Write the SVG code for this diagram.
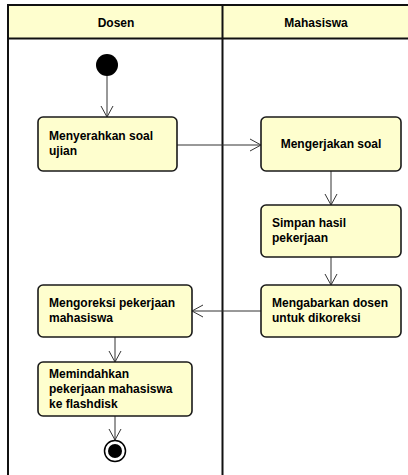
<svg xmlns="http://www.w3.org/2000/svg" width="408" height="475" viewBox="0 0 408 475">
<style>
.lane{fill:none;stroke:#111;stroke-width:2}
.hdr{fill:#FEFECE}
.htxt{font-family:"Liberation Sans",Arial,sans-serif;font-size:12px;font-weight:bold;fill:#000;text-anchor:middle}
.box{fill:#FEFECE;stroke:#1a1a1a;stroke-width:1.6}
.txt{font-family:"Liberation Sans",Arial,sans-serif;font-size:12px;font-weight:bold;fill:#000}
.ctr{text-anchor:middle}
.edge{fill:none;stroke:#333;stroke-width:1;marker-end:url(#arr)}
</style>
<defs>
<marker id="arr" markerUnits="userSpaceOnUse" markerWidth="14" markerHeight="16" refX="12" refY="7" orient="auto">
<path d="M1,1 L12,7 L1,13" fill="none" stroke="#333" stroke-width="1"/>
</marker>
</defs>
<rect x="0" y="0" width="408" height="475" fill="#fff"/>
<g id="swimlanes">
<rect class="hdr" x="8" y="5" width="400" height="33.5"/>
<line class="lane" x1="8" y1="5" x2="408" y2="5"/>
<line class="lane" x1="8" y1="38.5" x2="408" y2="38.5"/>
<line class="lane" x1="8" y1="4" x2="8" y2="475"/>
<line class="lane" x1="222.5" y1="5" x2="222.5" y2="475"/>
<text class="htxt" x="116" y="27">Dosen</text>
<text class="htxt" x="316" y="27">Mahasiswa</text>
</g>
<g id="connectors">
<line class="edge" x1="107" y1="76" x2="107" y2="117"/>
<line class="edge" x1="177" y1="145" x2="261" y2="145"/>
<line class="edge" x1="331" y1="171" x2="331" y2="205"/>
<line class="edge" x1="331" y1="257" x2="331" y2="285"/>
<line class="edge" x1="261" y1="311" x2="192" y2="311"/>
<line class="edge" x1="115" y1="337" x2="115" y2="362"/>
<line class="edge" x1="115" y1="416" x2="115" y2="440"/>
</g>
<g id="start"><circle cx="107" cy="65" r="11" fill="#000"/></g>
<g id="n1">
<rect class="box" x="38" y="117" width="139" height="54" rx="5"/>
<text class="txt" x="49" y="140">Menyerahkan soal</text>
<text class="txt" x="49" y="155">ujian</text>
</g>
<g id="n2">
<rect class="box" x="261" y="117" width="140" height="54" rx="5"/>
<text class="txt ctr" x="331" y="148">Mengerjakan soal</text>
</g>
<g id="n3">
<rect class="box" x="261" y="205" width="140" height="52" rx="5"/>
<text class="txt" x="272" y="227">Simpan hasil</text>
<text class="txt" x="272" y="242">pekerjaan</text>
</g>
<g id="n4">
<rect class="box" x="261" y="285" width="140" height="52" rx="5"/>
<text class="txt" x="272" y="307">Mengabarkan dosen</text>
<text class="txt" x="272" y="322">untuk dikoreksi</text>
</g>
<g id="n5">
<rect class="box" x="38" y="285" width="154" height="52" rx="5"/>
<text class="txt" x="49" y="307">Mengoreksi pekerjaan</text>
<text class="txt" x="49" y="322">mahasiswa</text>
</g>
<g id="n6">
<rect class="box" x="38" y="362" width="154" height="54" rx="5"/>
<text class="txt" x="49" y="378">Memindahkan</text>
<text class="txt" x="49" y="393">pekerjaan mahasiswa</text>
<text class="txt" x="49" y="408">ke flashdisk</text>
</g>
<g id="end">
<circle cx="115" cy="451" r="10.5" fill="#fff" stroke="#000" stroke-width="1.5"/>
<circle cx="115" cy="451" r="7" fill="#000"/>
</g>
</svg>
